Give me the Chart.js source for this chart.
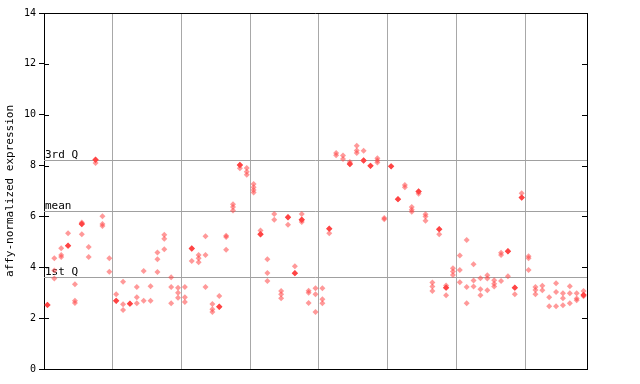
<!DOCTYPE html>
<html><head><meta charset="utf-8">
<script src="https://cdn.jsdelivr.net/npm/chart.js@4"></script>
<style>html,body{margin:0;padding:0;background:#fff}</style>
</head><body>
<canvas id="c" width="640" height="384"></canvas>
<script>
// values per sample, grouped
const group1 = [[2.52],[4.36,3.87,3.56],[4.75,4.48,4.40],[5.34,4.85],[3.33,2.68,2.60],[5.76,5.70,5.30],[4.80,4.40],[8.23,8.10],[6.01,5.70,5.62],[4.36,3.82]];
const group2 = [[2.94,2.68],[3.43,2.55,2.32],[2.57],[3.22,2.82,2.59],[3.85,2.68],[3.25,2.68],[4.58,4.32,3.81],[5.28,5.12,4.71],[3.61,3.22,2.59],[3.20,3.00,2.80]];
const group3 = [[3.22,2.82,2.63],[4.74,4.25],[4.48,4.36,4.20],[5.22,4.48,3.22],[2.56,2.35,2.24],[2.87,2.45],[5.24,5.19,4.69],[6.48,6.37,6.23],[8.02,7.89],[7.90,7.76,7.64]];
const group4 = [[7.28,7.15,7.04,6.94],[5.45,5.30],[4.32,3.78,3.46],[6.10,5.87],[3.07,2.94,2.78],[5.97,5.67],[4.04,3.77],[6.10,5.87,5.78],[3.08,3.00,2.60],[3.18,2.94,2.24]];
const group5 = [[3.18,2.74,2.59],[5.52,5.34],[8.49,8.41],[8.40,8.26],[8.14,8.06],[8.78,8.59,8.49],[8.58,8.20],[7.99],[8.29,8.20,8.12],[5.94,5.89]];
const group6 = [[7.97],[6.68],[7.24,7.15],[6.37,6.26,6.18],[6.98,6.89],[6.09,6.00,5.83],[3.40,3.24,3.07],[5.50,5.30],[3.28,3.20,2.90],[3.96,3.83,3.70]];
const group7 = [[4.46,3.89,3.41],[5.07,3.22,2.59],[4.12,3.48,3.24],[3.57,3.14,2.90],[3.69,3.56,3.10],[3.49,3.35,3.24],[4.57,4.48,3.46],[4.63,3.65],[3.20,2.94],[6.91,6.74]];
const group8 = [[4.43,4.36,3.89],[3.22,3.11,2.94],[3.27,3.10],[2.82,2.47],[3.37,3.03,2.47],[2.98,2.78,2.51],[3.25,2.98,2.59],[2.98,2.77,2.70],[3.07,2.91,2.86]];
// solid (filled) markers: [sample index, value]
const filled = [[0,2.52],[3,4.85],[5,5.70],[7,8.23],[10,2.68],[12,2.57],[21,4.74],[25,2.45],[28,8.02],[31,5.30],[35,5.97],[36,3.77],[37,5.87],[41,5.52],[44,8.06],[46,8.20],[47,7.99],[50,7.97],[51,6.68],[54,6.98],[57,5.50],[58,3.20],[67,4.63],[68,3.20],[69,6.74],[78,2.91]];
const yTicks = [0,2,4,6,8,10,12,14];
const refLabels = ['3rd Q','mean','1st Q'];
const refValues = [8.22,6.21,3.62];
const groupBounds = [10.5,20.5,30.5,40.5,50.5,60.5,70.5];

const groups=[group1,group2,group3,group4,group5,group6,group7,group8];
const samples=[].concat(...groups);
const hatched=[];
samples.forEach((vals,i)=>vals.forEach(v=>hatched.push({x:i+1,y:v})));
const solidPts=filled.map(([i,v])=>({x:i+1,y:v}));
const nSamples=samples.length;

const frame={id:'frame',
 beforeDatasetsDraw(chart){
  const {ctx,chartArea:a,scales:{y}}=chart;
  ctx.save();
  ctx.strokeStyle='#a0a0a0';ctx.lineWidth=1;
  ctx.font='11px "DejaVu Sans Mono"';ctx.fillStyle='#000';ctx.textBaseline='bottom';ctx.textAlign='left';
  refValues.forEach((v,k)=>{
    const py=Math.round(y.getPixelForValue(v))+0.5;
    ctx.beginPath();ctx.moveTo(a.left,py);ctx.lineTo(a.right,py);ctx.stroke();
    ctx.fillText(refLabels[k],a.left+1,py+0.5);
  });
  ctx.restore();
 },
 afterDraw(chart){
  const {ctx,chartArea:a,scales:{y}}=chart;
  ctx.save();ctx.strokeStyle='#000';ctx.lineWidth=1;
  ctx.beginPath();
  ctx.moveTo(a.left,a.top+0.5);ctx.lineTo(a.right+0.5,a.top+0.5);
  ctx.moveTo(Math.round(a.right)+0.5,a.top);ctx.lineTo(Math.round(a.right)+0.5,a.bottom);
  yTicks.forEach(v=>{
    const py=Math.round(y.getPixelForValue(v))+0.5;
    ctx.moveTo(a.left,py);ctx.lineTo(a.left+5,py);
    ctx.moveTo(a.right-5,py);ctx.lineTo(a.right,py);
  });
  ctx.stroke();ctx.restore();
 }};

new Chart(document.getElementById('c'),{
 type:'scatter',
 data:{datasets:[
  {data:hatched,backgroundColor:'rgba(255,70,70,0.55)',pointStyle:'rectRot',pointRadius:3,borderWidth:0,pointHoverRadius:3},
  {data:solidPts,backgroundColor:'#ff4444',pointStyle:'rectRot',pointRadius:3.2,borderWidth:0,pointHoverRadius:3}
 ]},
 options:{responsive:false,animation:false,
  plugins:{legend:{display:false},tooltip:{enabled:false}},
  layout:{padding:{left:0,top:13,right:53,bottom:15}},
  scales:{
   x:{type:'linear',min:0.5,max:nSamples+0.5,
      afterBuildTicks:s=>{s.ticks=groupBounds.map(v=>({value:v}));},
      ticks:{display:false},
      grid:{color:'#a8a8a8',drawTicks:false,lineWidth:1},
      border:{display:true,color:'#000'},
      afterFit:s=>{s.height=0;}},
   y:{min:0,max:14,
      afterBuildTicks:s=>{s.ticks=yTicks.map(v=>({value:v}));},
      ticks:{font:{family:'DejaVu Sans Mono',size:10},color:'#000',padding:3},
      grid:{drawOnChartArea:false,color:'#000',tickLength:5},
      border:{display:true,color:'#000'},
      title:{display:true,text:'affy-normalized expression',font:{family:'DejaVu Sans Mono',size:11},color:'#000',padding:{top:4,bottom:0}},
      afterFit:s=>{s.width=44;}}
  }},
 plugins:[frame]
});
</script>
</body></html>
